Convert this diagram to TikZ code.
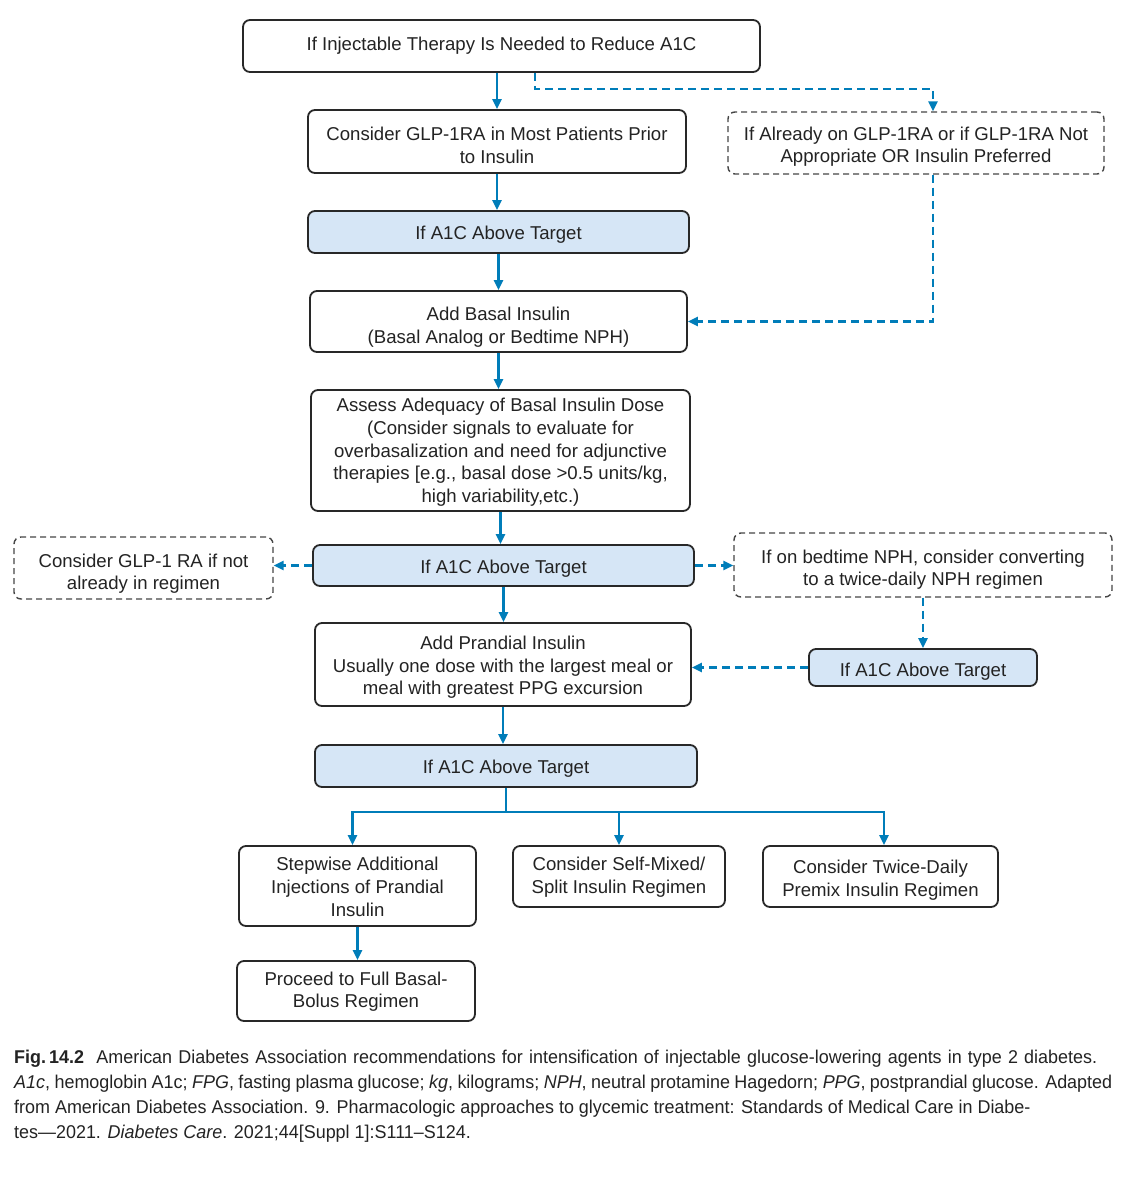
\documentclass[tikz,border=0pt]{standalone}
\usepackage{fontspec}
\setmainfont{Liberation Sans}
\newfontfamily\capfont[FakeStretch=0.97]{Liberation Sans}
\usetikzlibrary{arrows.meta}
\definecolor{flowblue}{RGB}{0,125,185}
\definecolor{fillblue}{RGB}{214,230,246}
\definecolor{boxgray}{RGB}{40,40,40}
\definecolor{dashgray}{RGB}{70,70,70}
\definecolor{txtgray}{RGB}{35,35,35}
\newcommand\dn[2]{\raisebox{-#1pt}[\height][\depth]{\begin{tabular}{@{}c@{}}#2\end{tabular}}}
\begin{document}
\begin{tikzpicture}[x=1pt,y=-1pt,
  box/.style={draw=boxgray, line width=1.8pt, rounded corners=7pt, align=center, inner sep=0pt,
    font=\fontsize{18.6}{22.6}\selectfont, text=txtgray},
  bluebox/.style={box, fill=fillblue},
  dbox/.style={box, draw=dashgray, line width=1.4pt, dash pattern=on 6pt off 4pt},
  arr/.style={draw=flowblue, line width=2.6pt, -{Triangle[length=10pt,width=9pt]}},
  darr/.style={arr, dash pattern=on 8pt off 5pt},
  plain/.style={draw=flowblue, line width=2.6pt},
  captext/.style={anchor=base west, inner sep=0pt, text=txtgray, font=\capfont\fontsize{18.5}{25}\selectfont}]
\useasboundingbox[fill=white] (0,0) rectangle (1138,1200);

\node[box, minimum width=517pt, minimum height=52pt] (top) at (501.5,46) {\dn{0}{If Injectable Therapy Is Needed to Reduce A1C}};
\node[box, minimum width=378pt, minimum height=63pt] (glp) at (497,141.5) {\dn{6}{Consider GLP-1RA in Most Patients Prior\\to Insulin}};
\node[dbox, minimum width=376pt, minimum height=62pt] (already) at (916,143) {\dn{4}{If Already on GLP-1RA or if GLP-1RA Not\\Appropriate OR Insulin Preferred}};
\node[bluebox, minimum width=381pt, minimum height=42pt] (a1) at (498.5,232) {\dn{3}{If A1C Above Target}};
\node[box, minimum width=377pt, minimum height=61pt] (basal) at (498.5,321.5) {\dn{6}{Add Basal Insulin\\(Basal Analog or Bedtime NPH)}};
\node[box, minimum width=379pt, minimum height=121pt] (assess) at (500.5,450.5) {\dn{2}{Assess Adequacy of Basal Insulin Dose\\(Consider signals to evaluate for\\overbasalization and need for adjunctive\\therapies [e.g., basal dose >0.5 units/kg,\\high variability,etc.)}};
\node[dbox, minimum width=259pt, minimum height=62pt] (left) at (143.5,568) {\dn{6}{Consider GLP-1 RA if not\\already in regimen}};
\node[bluebox, minimum width=381pt, minimum height=41pt] (a2) at (503.5,565.5) {\dn{3}{If A1C Above Target}};
\node[dbox, minimum width=378pt, minimum height=64pt] (nph) at (923,565) {\dn{5}{If on bedtime NPH, consider converting\\to a twice-daily NPH regimen}};
\node[box, minimum width=376pt, minimum height=83pt] (prand) at (503,664.5) {\dn{3}{Add Prandial Insulin\\Usually one dose with the largest meal or\\meal with greatest PPG excursion}};
\node[bluebox, minimum width=228pt, minimum height=37pt] (a3) at (923,667.5) {\dn{4}{If A1C Above Target}};
\node[bluebox, minimum width=382pt, minimum height=42pt] (a4) at (506,766) {\dn{3}{If A1C Above Target}};
\node[box, minimum width=237pt, minimum height=80pt] (step) at (357.5,886) {\dn{3}{Stepwise Additional\\Injections of Prandial\\Insulin}};
\node[box, minimum width=212pt, minimum height=61pt] (self) at (619,876.5) {\dn{1}{Consider Self-Mixed/\\Split Insulin Regimen}};
\node[box, minimum width=235pt, minimum height=61pt] (twice) at (880.5,876.5) {\dn{4}{Consider Twice-Daily\\Premix Insulin Regimen}};
\node[box, minimum width=238pt, minimum height=60pt] (proceed) at (356,991) {\dn{1}{Proceed to Full Basal-\\Bolus Regimen}};

\draw[arr] (glp.north |- top.south) -- (glp.north);
\draw[darr] ([xshift=33.5pt]top.south) -- ++(0,16) -| ([xshift=17pt]already.north);
\draw[arr] (glp.south) -- (glp.south |- a1.north);
\draw[arr] (a1.south) -- (a1.south |- basal.north);
\draw[darr] ([xshift=17pt]already.south) |- (basal.east);
\draw[arr] (basal.south) -- (basal.south |- assess.north);
\draw[arr] (assess.south) -- (assess.south |- a2.north);
\draw[darr] (a2.west) -- (a2.west -| left.east);
\draw[darr] (a2.east) -- (a2.east -| nph.west);
\draw[darr] (nph.south) -- (nph.south |- a3.north);
\draw[darr] (a3.west) -- (a3.west -| prand.east);
\draw[arr] (a2.south) -- (a2.south |- prand.north);
\draw[arr] (prand.south) -- (prand.south |- a4.north);
\draw[plain] (a4.south) -- ++(0,24) coordinate (br);
\draw[arr] (br) -| ([xshift=-5pt]step.north);
\draw[arr] (br) -| (self.north);
\draw[arr] (br) -| ([xshift=3.5pt]twice.north);
\draw[arr] (step.south) -- (step.south |- proceed.north);

\node[captext] (c1) at (14,1063) {\makebox[1083pt][s]{\textbf{Fig.\,14.2}\ \ American Diabetes Association recommendations for intensification of injectable glucose-lowering agents in type 2 diabetes.}};
\node[captext] (c2) at (14,1088) {\makebox[1098pt][s]{\textit{A1c}, hemoglobin A1c; \textit{FPG}, fasting plasma glucose; \textit{kg}, kilograms; \textit{NPH}, neutral protamine Hagedorn; \textit{PPG}, postprandial glucose. Adapted}};
\node[captext] (c3) at (14,1113) {from American Diabetes Association. 9. Pharmacologic approaches to glycemic treatment: Standards of Medical Care in Diabe-};
\node[captext] (c4) at (14,1138) {tes—2021. \textit{Diabetes Care}. 2021;44[Suppl 1]:S111–S124.};
\end{tikzpicture}
\end{document}
